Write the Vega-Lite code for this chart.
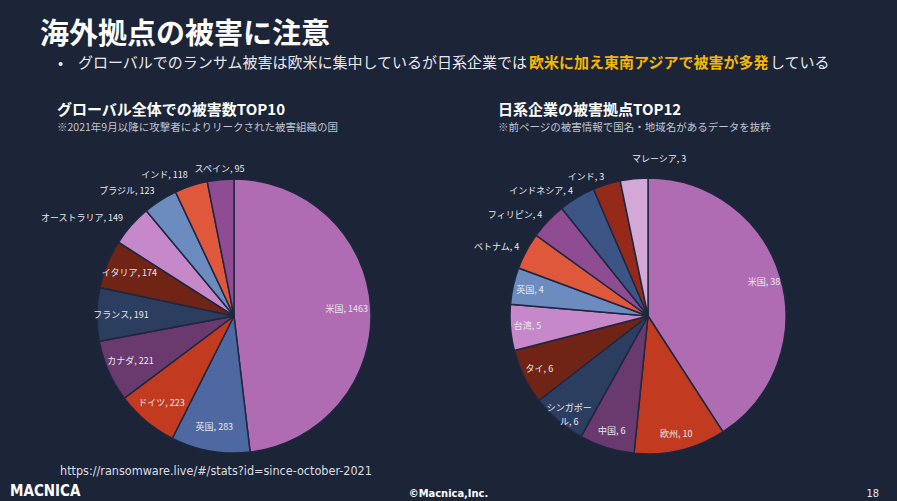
{
  "$schema": "https://vega.github.io/schema/vega-lite/v6.json",
  "background": "#1c2438",
  "padding": {"left": 0, "top": 21, "right": 0, "bottom": 0},
  "spacing": 0,
  "config": {
    "view": {"stroke": null},
    "font": "Noto Sans CJK JP",
    "title": {"frame": "group", "anchor": "start", "offset": 0, "color": "#ffffff", "font": "Noto Sans CJK JP", "subtitleFont": "Noto Sans CJK JP"},
    "concat": {"spacing": 0}
  },
  "resolve": {"scale": {"color": "independent", "theta": "independent"}},
  "datasets": {
    "global": [
      {"rank": 1, "name": "米国", "value": 1463, "label": "米国, 1463"},
      {"rank": 2, "name": "英国", "value": 283, "label": "英国, 283"},
      {"rank": 3, "name": "ドイツ", "value": 223, "label": "ドイツ, 223"},
      {"rank": 4, "name": "カナダ", "value": 221, "label": "カナダ, 221"},
      {"rank": 5, "name": "フランス", "value": 191, "label": "フランス, 191"},
      {"rank": 6, "name": "イタリア", "value": 174, "label": "イタリア, 174"},
      {"rank": 7, "name": "オーストラリア", "value": 149, "label": "オーストラリア, 149"},
      {"rank": 8, "name": "ブラジル", "value": 123, "label": "ブラジル, 123"},
      {"rank": 9, "name": "インド", "value": 118, "label": "インド, 118"},
      {"rank": 10, "name": "スペイン", "value": 95, "label": "スペイン, 95"}
    ],
    "japan": [
      {"rank": 1, "name": "米国", "value": 38, "label": "米国, 38"},
      {"rank": 2, "name": "欧州", "value": 10, "label": "欧州, 10"},
      {"rank": 3, "name": "中国", "value": 6, "label": "中国, 6"},
      {"rank": 4, "name": "シンガポール", "value": 6, "label": "シンガポー\nル, 6"},
      {"rank": 5, "name": "タイ", "value": 6, "label": "タイ, 6"},
      {"rank": 6, "name": "台湾", "value": 5, "label": "台湾, 5"},
      {"rank": 7, "name": "英国", "value": 4, "label": "英国, 4"},
      {"rank": 8, "name": "ベトナム", "value": 4, "label": "ベトナム, 4"},
      {"rank": 9, "name": "フィリピン", "value": 4, "label": "フィリピン, 4"},
      {"rank": 10, "name": "インドネシア", "value": 4, "label": "インドネシア, 4"},
      {"rank": 11, "name": "インド", "value": 3, "label": "インド, 3"},
      {"rank": 12, "name": "マレーシア", "value": 3, "label": "マレーシア, 3"}
    ]
  },
  "vconcat": [
    {
      "width": 897, "height": 2,
      "data": {"values": [{}]},
      "mark": {"type": "point", "size": 0, "opacity": 0},
      "title": {"text": "海外拠点の被害に注意", "dx": 40, "fontSize": 29, "fontWeight": "bold"}
    },
    {
      "spacing": 0,
      "hconcat": [
        {"width": 78, "height": 27, "data": {"values": [{}]}, "mark": {"type": "point", "size": 0, "opacity": 0},
         "title": {"text": "•", "dx": 58, "fontSize": 15, "fontWeight": "normal", "color": "#e6e8ee"}},
        {"width": 450, "height": 27, "data": {"values": [{}]}, "mark": {"type": "point", "size": 0, "opacity": 0},
         "title": {"text": "グローバルでのランサム被害は欧米に集中しているが日系企業では", "fontSize": 15, "fontWeight": "normal", "color": "#e6e8ee"}},
        {"width": 240, "height": 27, "data": {"values": [{}]}, "mark": {"type": "point", "size": 0, "opacity": 0},
         "title": {"text": "欧米に加え東南アジアで被害が多発", "fontSize": 15, "fontWeight": "bold", "color": "#f5b800"}},
        {"width": 129, "height": 27, "data": {"values": [{}]}, "mark": {"type": "point", "size": 0, "opacity": 0},
         "title": {"text": "している", "fontSize": 15, "fontWeight": "normal", "color": "#e6e8ee"}}
      ]
    },
    {
      "spacing": 0,
      "hconcat": [
        {"width": 468, "height": 16.5, "data": {"values": [{}]}, "mark": {"type": "point", "size": 0, "opacity": 0},
         "title": {"text": "グローバル全体での被害数TOP10", "subtitle": "※2021年9月以降に攻撃者によりリークされた被害組織の国", "dx": 57, "fontSize": 15, "fontWeight": "bold", "subtitleFontSize": 10.5, "subtitleColor": "#c0c4d0", "subtitlePadding": 5}},
        {"width": 360, "height": 16.5, "data": {"values": [{}]}, "mark": {"type": "point", "size": 0, "opacity": 0},
         "title": {"text": "日系企業の被害拠点TOP12", "subtitle": "※前ページの被害情報で国名・地域名があるデータを抜粋", "dx": 30, "fontSize": 15, "fontWeight": "bold", "subtitleFontSize": 10.5, "subtitleColor": "#c0c4d0", "subtitlePadding": 5}}
      ]
    },
    {
      "spacing": 6,
      "resolve": {"scale": {"color": "independent", "theta": "independent"}},
      "vconcat": [
        {
          "spacing": 0,
          "resolve": {"scale": {"color": "independent", "theta": "independent"}},
          "hconcat": [
            {
              "width": 468, "height": 276,
              "title": {"text": "https://ransomware.live/#/stats?id=since-october-2021", "orient": "bottom", "dx": 60, "offset": -2, "fontSize": 12.5, "fontWeight": "normal", "font": "Liberation Sans Narrow, DejaVu Sans Condensed, sans-serif", "color": "#dcdee6"},
              "data": {"name": "global"},
              "encoding": {
                "theta": {"field": "value", "type": "quantitative", "stack": true},
                "order": {"field": "rank", "type": "quantitative", "sort": "ascending"},
                "color": {"field": "name", "type": "nominal", "legend": null,
                  "scale": {"domain": ["米国", "英国", "ドイツ", "カナダ", "フランス", "イタリア", "オーストラリア", "ブラジル", "インド", "スペイン"],
                            "range": ["#b06cb2", "#4e68a2", "#c23a20", "#6a3a6e", "#2c3e60", "#702416", "#c688c8", "#6c8cc0", "#e0583c", "#904c92"]}}
              },
              "layer": [
                {"mark": {"type": "arc", "outerRadius": 137, "stroke": "#1f2740", "strokeWidth": 1.5}},
                {"mark": {"type": "text", "radius": 113, "fontSize": 9},
                 "encoding": {"text": {"field": "label", "type": "nominal"}, "color": {"value": "#e8e8f0"},
                   "opacity": {"condition": {"test": "datum.rank <= 6", "value": 1}, "value": 0}}},
                {"mark": {"type": "text", "radius": 148, "fontSize": 9, "align": "right"},
                 "encoding": {"text": {"field": "label", "type": "nominal"}, "color": {"value": "#e8e8f0"},
                   "opacity": {"condition": {"test": "datum.rank >= 7 && datum.rank <= 9", "value": 1}, "value": 0}}},
                {"mark": {"type": "text", "radius": 148, "fontSize": 9, "align": "center"},
                 "encoding": {"text": {"field": "label", "type": "nominal"}, "color": {"value": "#e8e8f0"},
                   "opacity": {"condition": {"test": "datum.rank == 10", "value": 1}, "value": 0}}}
              ]
            },
            {
              "width": 360, "height": 276,
              "data": {"name": "japan"},
              "encoding": {
                "theta": {"field": "value", "type": "quantitative", "stack": true},
                "order": {"field": "rank", "type": "quantitative", "sort": "ascending"},
                "color": {"field": "name", "type": "nominal", "legend": null,
                  "scale": {"domain": ["米国", "欧州", "中国", "シンガポール", "タイ", "台湾", "英国", "ベトナム", "フィリピン", "インドネシア", "インド", "マレーシア"],
                            "range": ["#b06cb2", "#c23a20", "#6a3a6e", "#2c3e60", "#702416", "#c688c8", "#6c8cc0", "#e0583c", "#904c92", "#3c5585", "#962a1a", "#d4a8d6"]}}
              },
              "layer": [
                {"mark": {"type": "arc", "outerRadius": 138, "stroke": "#1f2740", "strokeWidth": 1.5}},
                {"mark": {"type": "text", "radius": 121, "fontSize": 9, "lineBreak": "\n", "lineHeight": 14},
                 "encoding": {"text": {"field": "label", "type": "nominal"}, "color": {"value": "#e8e8f0"},
                   "opacity": {"condition": {"test": "datum.rank <= 7", "value": 1}, "value": 0}}},
                {"mark": {"type": "text", "radius": 146, "fontSize": 9, "align": "right"},
                 "encoding": {"text": {"field": "label", "type": "nominal"}, "color": {"value": "#e8e8f0"},
                   "opacity": {"condition": {"test": "datum.rank >= 8 && datum.rank <= 11", "value": 1}, "value": 0}}},
                {"mark": {"type": "text", "radius": 158, "fontSize": 9, "align": "left"},
                 "encoding": {"text": {"field": "label", "type": "nominal"}, "color": {"value": "#e8e8f0"},
                   "opacity": {"condition": {"test": "datum.rank == 12", "value": 1}, "value": 0}}}
              ]
            }
          ]
        },
        {
          "spacing": 0,
          "hconcat": [
            {"width": 300, "height": 20, "data": {"values": [{}]}, "mark": {"type": "point", "size": 0, "opacity": 0},
             "title": {"text": "MACNICA", "dx": 10, "fontSize": 15, "fontWeight": "bold", "font": "Liberation Sans Narrow, DejaVu Sans Condensed, sans-serif", "color": "#ffffff"}},
            {"width": 297, "height": 20, "data": {"values": [{}]}, "mark": {"type": "point", "size": 0, "opacity": 0},
             "title": {"text": "©Macnica,Inc.", "anchor": "middle", "fontSize": 11, "fontWeight": "bold", "font": "Liberation Sans Narrow, DejaVu Sans Condensed, sans-serif", "color": "#ffffff"}},
            {"width": 300, "height": 20, "data": {"values": [{}]}, "mark": {"type": "point", "size": 0, "opacity": 0},
             "title": {"text": "18", "anchor": "end", "dx": -18, "fontSize": 11, "fontWeight": "normal", "font": "Liberation Sans Narrow, DejaVu Sans Condensed, sans-serif", "color": "#e6e8ee"}}
          ]
        }
      ]
    }
  ]
}
